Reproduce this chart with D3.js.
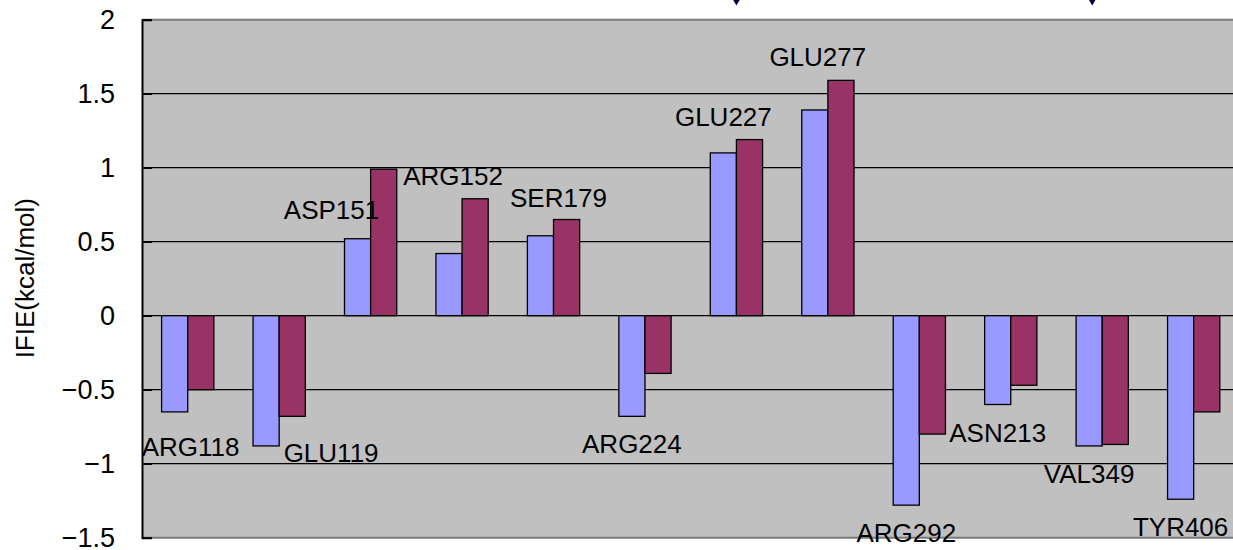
<!DOCTYPE html>
<html>
<head>
<meta charset="utf-8">
<script src="https://cdn.jsdelivr.net/npm/d3@7"></script>
<style>
  html, body { margin: 0; padding: 0; background: #fff; }
  svg { display: block; }
  text { font-family: "Liberation Sans", Arial, sans-serif; }
</style>
</head>
<body>
<svg id="chart" width="1233" height="550"></svg>
<script>
// Residues and their interaction energies (kcal/mol) for the two systems
const categories = ["ARG118", "GLU119", "ASP151", "ARG152", "SER179", "ARG224",
                    "GLU227", "GLU277", "ARG292", "ASN213", "VAL349", "TYR406"];
const seriesA = [-0.65, -0.88, 0.52, 0.42, 0.54, -0.68, 1.10, 1.39, -1.28, -0.60, -0.88, -1.24];
const seriesB = [-0.50, -0.68, 0.99, 0.79, 0.65, -0.39, 1.19, 1.59, -0.80, -0.47, -0.87, -0.65];
const yTicks = [2, 1.5, 1, 0.5, 0, -0.5, -1, -1.5];

// Hand-placed offsets [dx, dy] of the residue labels from their default spot
const labelNudge = [[16, 7], [65, -21], [-26, 7], [4, -42], [18, -2], [0, 0],
                    [0, 0], [3, -17], [0, 0], [0, 0], [0, 0], [0, 0]];
// Arrow tips pointing down at the top edge
const arrowMarks = [{ cat: "GLU227", dx: 0 }, { cat: "VAL349", dx: -10 }];

const svg = d3.select("#chart");
const W = 1233;
const plotLeft = 142, plotTop = 19.7, plotBottom = 537.7;
const step = 91.45;

const x = d3.scaleBand().domain(categories).range([plotLeft, plotLeft + step * categories.length]);
const x1 = d3.scaleBand().domain(["a", "b"]).range([0, x.bandwidth()]).paddingOuter(0.75);
const y = d3.scaleLinear().domain([-1.5, 2]).range([plotBottom, plotTop]);

// plot area
svg.append("rect")
  .attr("x", plotLeft).attr("y", plotTop)
  .attr("width", W - plotLeft).attr("height", plotBottom - plotTop)
  .attr("fill", "#C0C0C0");

// horizontal gridlines
svg.append("g").selectAll("line")
  .data(yTicks.filter(t => t !== 2 && t !== -1.5))
  .join("line")
  .attr("x1", plotLeft).attr("x2", W)
  .attr("y1", d => y(d)).attr("y2", d => y(d))
  .attr("stroke", "#000").attr("stroke-width", 1.2);

// top and bottom frame
svg.append("g").selectAll("line")
  .data([2, -1.5])
  .join("line")
  .attr("x1", plotLeft).attr("x2", W)
  .attr("y1", d => y(d)).attr("y2", d => y(d))
  .attr("stroke", "#7a7a7a").attr("stroke-width", 2);

// bars
const groups = svg.append("g").selectAll("g")
  .data(categories)
  .join("g")
  .attr("transform", d => `translate(${x(d)},0)`);

const pairs = (c, i) => [{ k: "a", v: seriesA[i] }, { k: "b", v: seriesB[i] }];
groups.selectAll("rect")
  .data(pairs)
  .join("rect")
  .attr("x", d => x1(d.k))
  .attr("width", x1.bandwidth())
  .attr("y", d => y(Math.max(0, d.v)))
  .attr("height", d => Math.abs(y(d.v) - y(0)))
  .attr("fill", d => d.k === "a" ? "#9999FF" : "#993366")
  .attr("stroke", "#000")
  .attr("stroke-width", 1.3);

// residue labels, centred on the first bar of each pair
svg.append("g").selectAll("text")
  .data(categories)
  .join("text")
  .attr("x", (c, i) => x(c) + x1("a") + x1.bandwidth() / 2 + labelNudge[i][0])
  .attr("y", (c, i) => {
    const v = seriesA[i];
    return (v >= 0 ? y(v) - 27 : y(v) + 37) + labelNudge[i][1];
  })
  .attr("text-anchor", "middle")
  .attr("font-size", 26)
  .attr("fill", "#000")
  .text(d => d);

// value axis
const axis = svg.append("g")
  .attr("transform", `translate(${plotLeft},0)`)
  .call(d3.axisLeft(y).tickValues(yTicks).tickSize(-10).tickPadding(27).tickFormat(d3.format("")));
axis.select(".domain").attr("stroke", "#000").attr("stroke-width", 2);
axis.selectAll(".tick line").attr("stroke", "#000").attr("stroke-width", 1.5);
axis.selectAll(".tick text")
  .attr("font-size", 27)
  .attr("font-family", "'Liberation Sans', Arial, sans-serif")
  .attr("fill", "#000");

// axis title
svg.append("text")
  .attr("transform", `translate(33.5,${(plotTop + plotBottom) / 2 - 0.5}) rotate(-90)`)
  .attr("text-anchor", "middle")
  .attr("font-size", 26)
  .attr("fill", "#000")
  .text("IFIE(kcal/mol)");

// arrow tips
svg.append("g").selectAll("path")
  .data(arrowMarks)
  .join("path")
  .attr("d", d => {
    const cx = x(d.cat) + x.bandwidth() / 2 + d.dx;
    return `M${cx - 5},-3L${cx + 5},-3L${cx},5.5Z`;
  })
  .attr("fill", "#000040");
</script>
</body>
</html>
